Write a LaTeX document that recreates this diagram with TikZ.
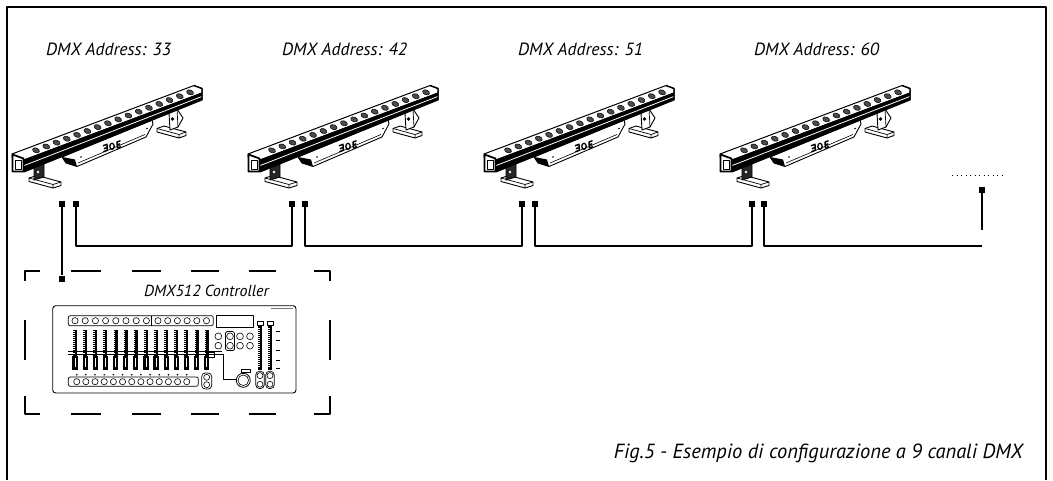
\documentclass[tikz,border=0pt]{standalone}
\usepackage{fontspec}
\setmainfont{PT Sans}
\begin{document}
\begin{tikzpicture}[x=1pt,y=-1pt,line join=round,
  frame/.style={line width=1.4pt},
  wire/.style={line width=1.3pt,black},
  plug/.style={rectangle,fill=black,draw=none,minimum size=6pt,inner sep=0pt},
  lbl/.style={font=\fontsize{16}{18}\selectfont\itshape,inner sep=0pt},
  addr/.style={font=\fontsize{17.7}{20}\selectfont\itshape,inner sep=0pt},
  figtxt/.style={font=\fontsize{20.5}{23}\selectfont\itshape,inner sep=0pt},
  dbox/.style={line width=1.2pt},
  thin/.style={line width=0.6pt},
  fixture/.pic={
    % left bracket
    \draw[fill=white,line width=0.9pt] (29,178) -- (37,175.5) -- (61,182) -- (61,185.5) -- (53,188) -- (29,181.5) -- cycle;
    \draw[line width=0.7pt] (29,178) -- (53,184.5) -- (61,182) (53,184.5) -- (53,188);
    \draw[fill=black!85,line width=0.8pt] (34,167) -- (44,163) -- (44,177) -- (34,180) -- cycle;
    \fill[white] (38,172) circle (1.3);
    % right bracket
    \draw[fill=white,line width=0.9pt] (157,128.5) -- (164,126) -- (186,132) -- (186,135.5) -- (179,138) -- (157,132) -- cycle;
    \draw[line width=0.7pt] (157,128.5) -- (179,134.5) -- (186,132) (179,134.5) -- (179,138);
    \draw[fill=white,line width=0.9pt] (169,113) -- (177,109) -- (183,118) -- (178,127) -- (170,130) -- cycle;
    \draw[line width=0.7pt] (177,109) -- (178,127);
    \fill (172.5,119) circle (1.8);
    % housing
    \draw[fill=white,line width=0.9pt] (62,157) -- (66,163) -- (77,166.5) -- (146,137) -- (153,124) -- (152,120) -- cycle;
    \fill (62,157) -- (66,163) -- (77,166.5) -- (75,159.5) -- cycle;
    \draw[line width=0.6pt] (78,163) -- (145,134.5);
    \fill (81,157) circle (0.8) (147,128.5) circle (0.8);
    \draw[line width=1.4pt] (103,145.8) -- (107,144.3) -- (107.4,150.2) -- (103.4,151.7) (104,148.7) -- (107.2,147.4);
    \draw[line width=1.3pt] (112,146.3) ellipse (2.2 and 3);
    \draw[line width=1.4pt] (120.5,140.7) -- (117,142) -- (117.4,148) -- (121,146.6) (117.2,145) -- (120.2,143.8);
    % bar: LED face
    \draw[fill=white,line width=1pt] (12,154) -- (194,85.5) -- (202,88.5) -- (202,93) -- (24,160) -- (12,157) -- cycle;
    \foreach \i in {0,...,15}{
      \pgfmathsetmacro\xx{36+\i*10.27}
      \pgfmathsetmacro\yy{163.9-0.3765*\xx}
      \draw[fill=black!70,line width=0.5pt,rotate around={-20.7:(\xx,\yy)}] (\xx,\yy) ellipse (3.6 and 2.4);
    }
    % bar: front strip
    \draw[fill=black,line width=1pt] (24,160) -- (202,93) -- (202,100) -- (24,172) -- cycle;
    \draw[white,line width=0.8pt] (24,165.6) -- (202,96.4);
    % end faces
    \draw[fill=white,line width=1.8pt] (12.5,154.5) -- (23.5,158.5) -- (23.5,171.5) -- (12.5,171.5) -- cycle;
    \draw[line width=0.5pt] (15,160) rectangle (21.5,169);
    \draw[line width=1.4pt] (194,85.5) -- (202,88.5) -- (202,100);
  }]
\useasboundingbox (0,0) rectangle (1053,480);

% outer frame
\draw[frame] (7,480) -- (7,7) -- (1046,7) -- (1046,480);

% fixtures
\pic at (0,0) {fixture};
\pic at (236,0) {fixture};
\pic at (472,0) {fixture};
\pic at (708,0) {fixture};

% labels
\node[addr,anchor=base west] (l1) at (46,55) {DMX Address: 33};
\node[addr,anchor=base west] (l2) at (282,55) {DMX Address: 42};
\node[addr,anchor=base west] (l3) at (518,55) {DMX Address: 51};
\node[addr,anchor=base west] (l4) at (754,55) {DMX Address: 60};
\node[figtxt,anchor=base east] (fig) at (1023,458) {Fig.5 - Esempio di configurazione a 9 canali DMX};
\node[lbl,anchor=base] (ctltxt) at (206.5,296) {DMX512 Controller};

% connectors
\node[plug] (a1) at (62,204) {};
\node[plug] (b1) at (76,204) {};
\node[plug] (a2) at (292,204) {};
\node[plug] (b2) at (305,204) {};
\node[plug] (a3) at (522,204) {};
\node[plug] (b3) at (535,204) {};
\node[plug] (a4) at (752,204) {};
\node[plug] (b4) at (764,204) {};
\node[plug] (ctl) at (62,278.5) {};
\node[plug] (endp) at (982,190) {};
\coordinate (bus) at (0,246);
\coordinate (endbus) at (982,246);
\coordinate (endstub) at (982,230);
\coordinate (dotA) at (952,175);
\coordinate (dotB) at (1002,175);
\draw[wire] (a1) -- (ctl);
\draw[wire] (b1) -- (b1 |- bus) -| (a2);
\draw[wire] (b2) -- (b2 |- bus) -| (a3);
\draw[wire] (b3) -- (b3 |- bus) -| (a4);
\draw[wire] (b4) -- (b4 |- bus) -- (endbus);
\draw[wire] (endp) -- (endstub);
\draw[line width=0.9pt,dash pattern=on 0.9pt off 3.6pt] (dotA) -- (dotB);

% dashed controller box
\draw[dbox] (25,281) -- (25,271) -- (40,271) (71,271) -- (101,271) (132,271) -- (161,271)
  (191,271) -- (219,271) (249,271) -- (276,271) (314,271) -- (330,271) -- (330,281);
\draw[dbox] (25,320) -- (25,360) (330,320) -- (330,360);
\draw[dbox] (25,396) -- (25,414) -- (40,414) (71,414) -- (101,414) (132,414) -- (161,414)
  (191,414) -- (219,414) (249,414) -- (276,414) (314,414) -- (330,414) -- (330,396);

% controller
\draw[line width=0.9pt,rounded corners=3pt] (52.7,305.7) rectangle (296,393);
\draw[line width=0.7pt,rounded corners=2pt] (68.3,315.7) rectangle (213.3,325.7);
\draw[line width=0.7pt] (151.7,315.7) -- (151.7,325.7);
\foreach \i in {0,...,7} \draw[thin] ({75+10.2*\i},320.7) circle (3.1);
\foreach \i in {0,...,5} \draw[thin] ({158+9.7*\i},320.7) circle (3.1);
\draw[line width=0.7pt] (216,315.7) rectangle (253.3,327);
\draw[black!55,line width=0.8pt] (271,308.5) -- (293,308.5);
% channel faders
\foreach \i in {0,...,13}{
  \pgfmathsetmacro\fx{75+10.13*\i}
  \fill (\fx-2,329.7) rectangle (\fx+2,369.7);
  \foreach \k in {0,...,11} \draw[white,line width=0.4pt] (\fx-2,331+\k*2) -- (\fx-0.3,331+\k*2);
  \fill[black] (\fx-2.6,356) rectangle (\fx+2.6,369.7);
  \fill[white] (\fx-0.4,358) rectangle (\fx+0.4,367);
}
\draw[line width=0.6pt] (68,351.6) -- (222,351.6) (68,354.2) -- (222,354.2);
% bottom buttons
\foreach \i in {0,...,12}{
  \fill ({76.7+9.17*\i},374.7) circle (0.9);
  \draw[thin] ({76.7+9.17*\i},381.7) circle (3.1);
}
\draw[line width=0.7pt,rounded corners=2pt] (68.3,377) rectangle (198.3,386.3);
\draw[line width=0.7pt,rounded corners=3.5pt] (201.7,373) rectangle (211.7,389);
\draw[thin] (206.7,377.3) circle (3) (206.7,384.7) circle (3);
% button grid
\foreach \x in {218.3,230,240,250} \foreach \y in {336.3,345.7} \draw[thin] (\x,\y) circle (3.4);
\draw[line width=0.7pt,rounded corners=1.5pt] (225.5,331.5) rectangle (234.5,350.5);
% cable and jog wheel
\draw[line width=0.7pt] (207,352.5) rectangle (214,357);
\draw[line width=0.7pt] (214,354.7) -- (223.3,354.7) -- (223.3,379.7) -- (236.3,379.7);
\draw[line width=0.5pt] (241,369.5) rectangle (250,372);
\draw[line width=0.8pt] (243.3,380.3) circle (7);
\draw[thin] (243.3,380.3) circle (5.3);
% master faders
\foreach \x in {260,270}{
  \fill (\x-2,326) rectangle (\x+2,369.7);
  \foreach \k in {0,...,19} \draw[white,line width=0.4pt] (\x-2,328+\k*2) -- (\x-0.3,328+\k*2);
  \draw[fill=white,line width=0.5pt] (\x-3,321.5) rectangle (\x+3,325.5);
  \draw[line width=0.7pt,rounded corners=3.5pt] (\x-4.2,371.3) rectangle (\x+4.2,388.5);
  \draw[thin] (\x,375.6) circle (3) (\x,384.2) circle (3);
}
\foreach \y in {331,340,350,360,368} \draw[line width=0.4pt] (276,\y) -- (280,\y);
\end{tikzpicture}
\end{document}
